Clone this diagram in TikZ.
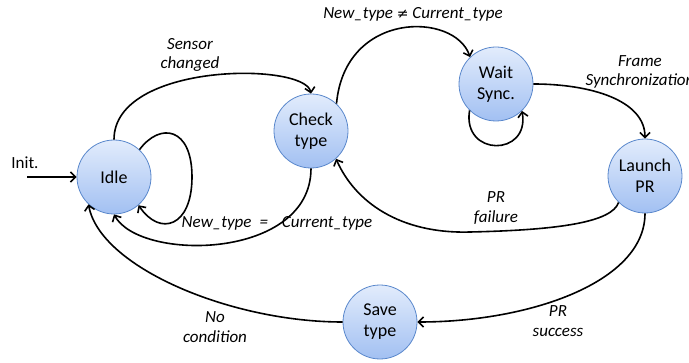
\documentclass[tikz,border=0pt]{standalone}
\usepackage{fontspec}
\setmainfont{Carlito}
\newfontfamily\symfont{DejaVu Sans}
\usetikzlibrary{arrows.meta}

\definecolor{stateborder}{HTML}{5A88CC}
\definecolor{statetop}{HTML}{E2ECFC}
\definecolor{statebottom}{HTML}{A2C0F2}

\tikzset{
    state/.style={circle, draw=stateborder, line width=0.8pt, top color=statetop,
        bottom color=statebottom, minimum size=74pt, inner sep=0pt, align=center,
        font=\fontsize{18}{21}\selectfont},
    trans/.style={line width=1.6pt, -{Straight Barb[length=5pt,width=10pt]}},
    cond/.style={font=\fontsize{17}{19.5}\selectfont\itshape, align=center},
}

\begin{document}
\begin{tikzpicture}[x=1pt, y=1pt]
        \useasboundingbox (0,0) rectangle (689,362);

        \node[state] (idle) at (114,185) {Idle};
        \node[state] (check) at (311,231) {Check\\type};
        \node[state] (wait) at (496,278) {Wait\\Sync.};
        \node[state] (launch) at (645,186) {Launch\\PR};
        \node[state] (save) at (380,40) {Save\\type};

        \coordinate (init) at (27,185);
        \node[font=\fontsize{17}{19}\selectfont] (initlabel) at (25,199) {Init.};
        \draw[trans] (init) -- (idle);

        % idle -> check
        \draw[trans] (idle.north) .. controls (114,300) and (305,300) .. (check.north);
        \node[cond] (sensorlabel) at (190,307) {Sensor\\changed};

        % idle self loop
        \draw[trans] (idle.47) .. controls (160,240) and (192,235) .. (192,185)
            .. controls (192,135) and (160,125) .. (idle.-49);

        % check -> idle
        \draw[trans] (check.south) .. controls (311,102) and (140,100) .. (idle.south);
        \node[cond] (samelabel) at (277,139) {New\_type\hspace{8pt}=\hspace{14pt}Current\_type};

        % check -> wait
        \draw[trans] (check.47) .. controls (345,352) and (455,350) .. (wait.134);
        \node[cond] (difflabel) at (413,348) {New\_type {\symfont\fontsize{14}{17}\selectfont ≠} Current\_type};

        % wait self loop
        \draw[trans] (wait.-135) .. controls (462,205) and (530,205) .. (wait.-46);

        % wait -> launch
        \draw[trans] (wait.east) .. controls (590,278) and (645,262) .. (launch.north);
        \node[cond] (synclabel) at (640,290) {Frame\\Synchronization};

        % launch -> check
        \draw[trans] (launch.-135) .. controls (612,140) and (560,132) .. (470,130)
            .. controls (400,128) and (355,160) .. (check.-48);
        \node[cond] (faillabel) at (496,154) {PR\\failure};

        % launch -> save
        \draw[trans] (launch.south) .. controls (645,80) and (530,40) .. (save.east);
        \node[cond] (successlabel) at (558,41) {PR\\success};

        % save -> idle
        \draw[trans] (save.west) .. controls (230,40) and (100,95) .. (idle.-133);
        \node[cond] (nocondlabel) at (215,35) {No\\condition};
    \end{tikzpicture}
\end{document}
